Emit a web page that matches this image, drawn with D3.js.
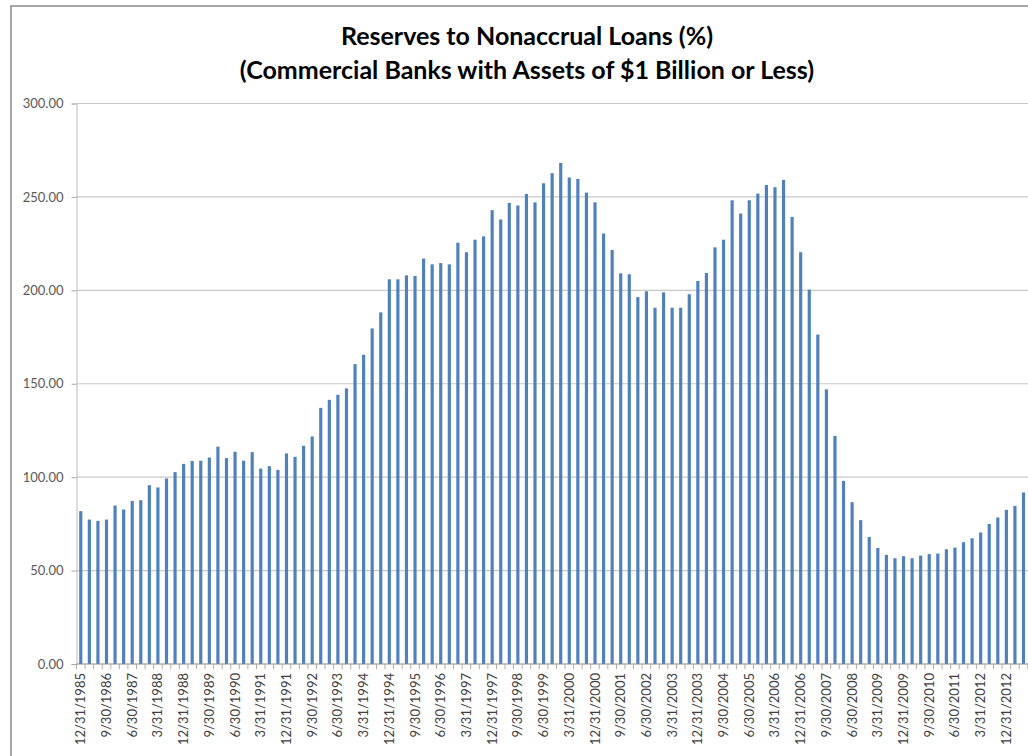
<!DOCTYPE html>
<html>
<head>
<meta charset="utf-8">
<script src="https://cdn.jsdelivr.net/npm/d3@7"></script>
<style>
  html, body { margin: 0; padding: 0; background: #fff; overflow: hidden; }
  svg { display: block; }
</style>
</head>
<body>
<svg id="chart" width="1028" height="756"></svg>
<script>
// Quarter-end reporting dates, Q4 1985 through Q2 2013
const startYear = 1985, startQuarter = 4, quarterCount = 111;
const quarterEnds = ["3/31", "6/30", "9/30", "12/31"];
const categories = [];
for (let k = 0; k < quarterCount; k++) {
  const q = (startQuarter - 1 + k) % 4;
  const y = startYear + Math.floor((startQuarter - 1 + k) / 4);
  categories.push(quarterEnds[q] + "/" + y);
}

// Reserves to nonaccrual loans (%), one value per quarter
const ratio = [
  81.8, 77.3, 76.6, 77.3, 84.8, 82.7, 87.3, 87.7, 95.7, 94.5,
  99.3, 102.7, 107.1, 108.6, 108.8, 110.5, 116.3, 110.2, 113.6, 108.8,
  113.4, 104.6, 105.9, 103.9, 112.7, 110.9, 116.8, 121.8, 137.1, 141.4,
  144.1, 147.5, 160.5, 165.5, 179.6, 188.2, 205.9, 205.9, 208.0, 207.7,
  217.0, 213.9, 214.6, 213.9, 225.5, 220.4, 227.1, 228.9, 242.9, 237.9,
  246.8, 245.4, 251.6, 247.1, 257.3, 262.7, 268.2, 260.4, 259.6, 252.3,
  247.1, 230.4, 221.6, 209.1, 208.6, 196.4, 199.5, 190.7, 198.9, 190.7,
  190.7, 197.9, 205.0, 209.3, 223.0, 227.1, 248.2, 241.1, 248.2, 251.8,
  256.4, 255.2, 259.1, 239.3, 220.4, 200.4, 176.3, 147.0, 122.1, 98.0,
  86.6, 77.0, 68.0, 62.1, 58.4, 56.6, 57.7, 56.6, 58.0, 58.8,
  59.1, 61.4, 62.3, 65.2, 67.3, 70.4, 75.0, 78.4, 82.5, 84.6,
  91.8
];

const yTicks = [0, 50, 100, 150, 200, 250, 300];
const titleLines = [
  "Reserves to Nonaccrual Loans (%)",
  "(Commercial Banks with Assets of $1 Billion or Less)"
];

const svg = d3.select("#chart");
const font = "Lato, 'Open Sans', sans-serif";

// Chart frame
svg.append("rect")
  .attr("x", 11).attr("y", 6)
  .attr("width", 1100).attr("height", 900)
  .attr("fill", "#fff")
  .attr("stroke", "#8c8c8c").attr("stroke-width", 1.5);

const plot = { left: 76.5, right: 1027.8, top: 103.5, bottom: 664 };

const x = d3.scaleBand()
  .domain(categories)
  .range([plot.left, plot.right])
  .paddingInner(0.63)
  .paddingOuter(0.315);

const y = d3.scaleLinear()
  .domain([0, 300])
  .range([plot.bottom, plot.top]);

// Horizontal gridlines
svg.append("g")
  .selectAll("line")
  .data(yTicks.filter(d => d > 0))
  .join("line")
  .attr("x1", plot.left).attr("x2", 1028)
  .attr("y1", d => y(d)).attr("y2", d => y(d))
  .attr("stroke", "#c9c9c9").attr("stroke-width", 1.2);

// Y axis
const yAxis = svg.append("g")
  .attr("transform", `translate(${plot.left},0)`)
  .call(d3.axisLeft(y).tickValues(yTicks).tickSize(5).tickPadding(8).tickFormat(d3.format(".2f")));
yAxis.select(".domain").attr("stroke", "#c9c9c9").attr("stroke-width", 1.2);
yAxis.selectAll(".tick line").attr("stroke", "#a6a6a6");
yAxis.selectAll("text")
  .attr("font-family", font).attr("font-size", 13)
  .attr("fill", "#595959");

// Bars
svg.append("g")
  .selectAll("rect")
  .data(ratio)
  .join("rect")
  .attr("x", (d, i) => x(categories[i]))
  .attr("y", d => y(d))
  .attr("width", x.bandwidth())
  .attr("height", d => y(0) - y(d))
  .attr("fill", "#4f81bd");

// X axis: a tick between every quarter, a label on every third quarter
const xAxisG = svg.append("g").attr("transform", `translate(0,${plot.bottom})`);
xAxisG.append("line")
  .attr("x1", plot.left).attr("x2", 1028)
  .attr("y1", 0).attr("y2", 0)
  .attr("stroke", "#8c8c8c").attr("stroke-width", 1.2);
xAxisG.selectAll("line.tick")
  .data(d3.range(categories.length + 1))
  .join("line")
  .attr("class", "tick")
  .attr("x1", i => plot.left + i * x.step())
  .attr("x2", i => plot.left + i * x.step())
  .attr("y1", 0).attr("y2", 5)
  .attr("stroke", "#b8a99a").attr("stroke-width", 1);
xAxisG.selectAll("text")
  .data(categories.filter((c, i) => i % 3 === 0))
  .join("text")
  .attr("transform", c => `translate(${x(c) + x.bandwidth() / 2 + 4.5},9) rotate(-90)`)
  .attr("text-anchor", "end")
  .attr("font-family", font).attr("font-size", 13)
  .attr("fill", "#404040")
  .text(c => c);

// Title
svg.append("g")
  .selectAll("text")
  .data(titleLines)
  .join("text")
  .attr("x", 527)
  .attr("y", (d, i) => 45 + i * 34)
  .attr("text-anchor", "middle")
  .attr("font-family", font).attr("font-weight", "bold").attr("font-size", 25)
  .attr("fill", "#000")
  .text(d => d);
</script>
</body>
</html>
